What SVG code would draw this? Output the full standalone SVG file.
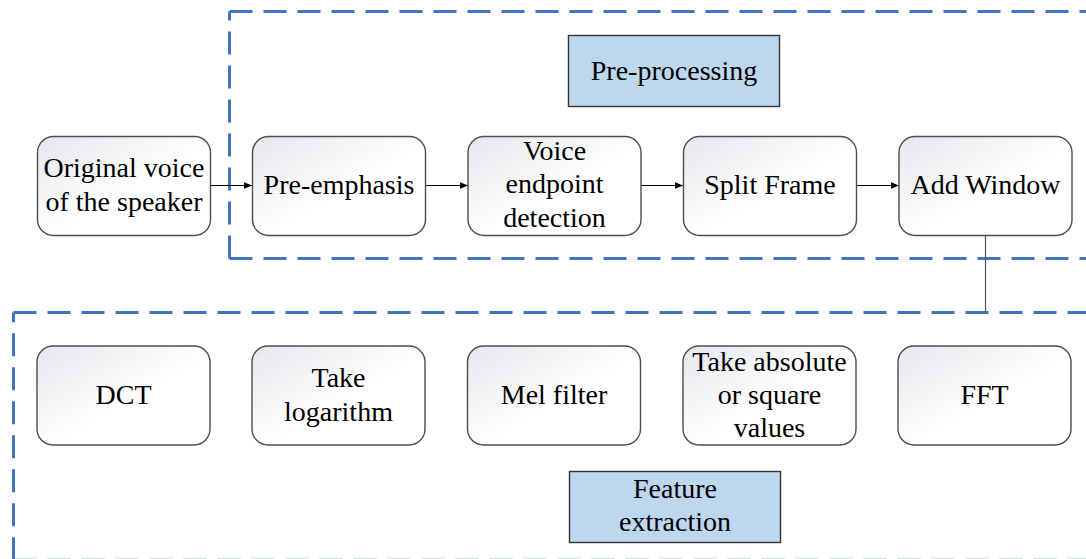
<svg xmlns="http://www.w3.org/2000/svg" width="1086" height="559" viewBox="0 0 1086 559">
  <defs>
    <linearGradient id="nodeFill" x1="0" y1="0" x2="1" y2="1">
      <stop offset="0" stop-color="#E6E7EC"/>
      <stop offset="0.55" stop-color="#FFFFFF"/>
      <stop offset="1" stop-color="#FFFFFF"/>
    </linearGradient>
    <marker id="arrow" viewBox="0 0 8 8" refX="8" refY="4" markerWidth="8" markerHeight="8" markerUnits="userSpaceOnUse" orient="auto">
      <path d="M0,0.8 L8,4 L0,7.2 Z" fill="#000"/>
    </marker>
  </defs>
  <style>
    .stage { fill: url(#nodeFill); stroke: #4d4d4d; stroke-width: 1.4; }
    .label { fill: #BDD7EE; stroke: #333; stroke-width: 1.4; }
    .frame { fill: none; stroke: #4472C4; stroke-width: 3; stroke-dasharray: 23 11; }
    .wire { fill: none; stroke: #000; stroke-width: 1.2; }
  </style>
  <rect width="1086" height="559" fill="#fff"/>

  <!-- dashed group frames -->
  <g id="frame-preprocessing">
    <path class="frame" d="M229.5,11.5 L1100,11.5"/>
    <path class="frame" d="M229.5,258.5 L229.5,11.5"/>
    <path class="frame" d="M229.5,258.5 L1100,258.5"/>
  </g>
  <g id="frame-feature">
    <path class="frame" d="M13.5,312.5 L1100,312.5"/>
    <path class="frame" d="M13.5,560.3 L13.5,312.5"/>
    <path class="frame" d="M13.5,560.3 L1100,560.3"/>
  </g>

  <!-- connectors -->
  <g id="connectors">
    <line class="wire" x1="210" y1="185.5" x2="252" y2="185.5" marker-end="url(#arrow)"/>
    <line class="wire" x1="426" y1="185.5" x2="468" y2="185.5" marker-end="url(#arrow)"/>
    <line class="wire" x1="641" y1="185.5" x2="683" y2="185.5" marker-end="url(#arrow)"/>
    <line class="wire" x1="857" y1="185.5" x2="899" y2="185.5" marker-end="url(#arrow)"/>
    <line x1="985.5" y1="235" x2="985.5" y2="312" stroke="#555" stroke-width="1.2"/>
  </g>

  <g font-family="Liberation Serif, DejaVu Serif, serif" font-size="28" fill="#000" text-anchor="middle">
  <!-- group labels -->
  <g id="label-preprocessing">
    <rect class="label" x="568.5" y="35.5" width="211" height="71"/>
    <text x="674" y="80">Pre-processing</text>
  </g>
  <g id="label-feature">
    <rect class="label" x="569.5" y="471.5" width="211" height="71"/>
    <text x="675" y="497.5">Feature</text>
    <text x="675" y="531">extraction</text>
  </g>

  <!-- top row -->
  <g id="node-original">
    <rect class="stage" x="37.5" y="136.5" width="173" height="99" rx="16"/>
    <text x="124" y="177">Original voice</text>
    <text x="124" y="211">of the speaker</text>
  </g>
  <g id="node-preemphasis">
    <rect class="stage" x="252.5" y="136.5" width="173" height="99" rx="16"/>
    <text x="339" y="194">Pre-emphasis</text>
  </g>
  <g id="node-endpoint">
    <rect class="stage" x="468" y="136.5" width="173" height="99" rx="16"/>
    <text x="554.5" y="159.5">Voice</text>
    <text x="554.5" y="193">endpoint</text>
    <text x="554.5" y="227">detection</text>
  </g>
  <g id="node-split">
    <rect class="stage" x="683.5" y="136.5" width="173" height="99" rx="16"/>
    <text x="770" y="194">Split Frame</text>
  </g>
  <g id="node-window">
    <rect class="stage" x="899" y="136.5" width="173" height="99" rx="16"/>
    <text x="985.5" y="194">Add Window</text>
  </g>

  <!-- bottom row -->
  <g id="node-dct">
    <rect class="stage" x="37" y="346" width="173" height="99" rx="16"/>
    <text x="123.5" y="404">DCT</text>
  </g>
  <g id="node-log">
    <rect class="stage" x="252" y="346" width="173" height="99" rx="16"/>
    <text x="338.5" y="387">Take</text>
    <text x="338.5" y="421">logarithm</text>
  </g>
  <g id="node-mel">
    <rect class="stage" x="467.5" y="346" width="173" height="99" rx="16"/>
    <text x="554" y="404">Mel filter</text>
  </g>
  <g id="node-abs">
    <rect class="stage" x="683" y="346" width="173" height="99" rx="16"/>
    <text x="769.5" y="370.5">Take absolute</text>
    <text x="769.5" y="404">or square</text>
    <text x="769.5" y="437">values</text>
  </g>
  <g id="node-fft">
    <rect class="stage" x="898" y="346" width="173" height="99" rx="16"/>
    <text x="984.5" y="404">FFT</text>
  </g>
  </g>
</svg>
